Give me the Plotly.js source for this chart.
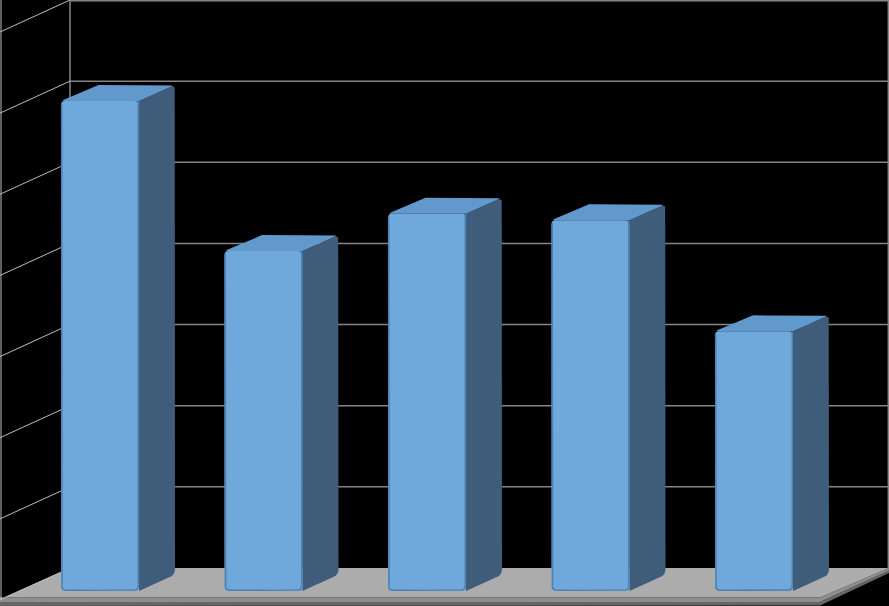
<!DOCTYPE html>
<html>
<head>
<meta charset="utf-8">
<script src="https://cdn.plot.ly/plotly-3.0.1.min.js"></script>
<style>html,body{margin:0;padding:0;background:#000;overflow:hidden}</style>
</head>
<body>
<div id="chart" style="width:889px;height:606px"></div>
<script>
// Data (bar height in grid units)
const categories = [0, 1, 2, 3, 4];
const values = [6.04, 4.19, 4.65, 4.57, 3.20];
const gridLevels = [0, 1, 2, 3, 4, 5, 6, 7];

// Projection constants of the fake-3D look (pixels per data unit on each axis)
const xUnit = 163.5, yUnit = 81.14;
const barWidth = 0.477;
const frontBase = -23 / yUnit;
const depthX = 36 / xUnit, depthY = 16 / yUnit;
const xMin = -100 / xUnit, xMax = 789 / xUnit;
const yMin = -38 / yUnit, yMax = 7.0;
const backLeft = xMin + 70 / xUnit;
const wallDy = -32 / yUnit;
const rightEdge = xMax - 0.7 / xUnit;
const topEdge = yMax - 0.7 / yUnit;

// Round polygon corners: each point is [x, y, radiusPx]
function rounded(points, closed) {
  const xs = [], ys = [];
  const n = points.length;
  points.forEach((p, i) => {
    const r = p[2] || 0;
    if (!r) { xs.push(p[0]); ys.push(p[1]); return; }
    const a = points[(i + n - 1) % n], b = points[(i + 1) % n];
    const seg = (q) => {
      const dx = (q[0] - p[0]) * xUnit, dy = (q[1] - p[1]) * yUnit;
      const len = Math.hypot(dx, dy);
      return [p[0] + dx / len * r / xUnit, p[1] + dy / len * r / yUnit];
    };
    const s = seg(a), e = seg(b);
    for (let t = 0; t <= 1.001; t += 0.25) {
      const u = 1 - t;
      xs.push(u * u * s[0] + 2 * u * t * p[0] + t * t * e[0]);
      ys.push(u * u * s[1] + 2 * u * t * p[1] + t * t * e[1]);
    }
  });
  if (closed !== false) { xs.push(xs[0]); ys.push(ys[0]); }
  return { x: xs, y: ys };
}

function poly(pts, color) {
  const r = rounded(pts);
  return { type: 'scatter', mode: 'lines', x: r.x, y: r.y, fill: 'toself', fillcolor: color,
           line: { width: 0, color: color }, hoverinfo: 'skip', showlegend: false };
}

function edge(pts, color, width) {
  const r = rounded(pts, false);
  return { type: 'scatter', mode: 'lines', x: r.x, y: r.y, zorder: 3,
           line: { width: width, color: color }, hoverinfo: 'skip', showlegend: false };
}

const traces = [];

// Floor: bright top plus a darkening front edge
const floorTipY = -31 / yUnit;
const floorFront = xMax - 69 / xUnit;
const b1 = -29.5 / yUnit, b2 = -34 / yUnit, b3 = -38 / yUnit;
traces.push(poly([[xMin, b2], [floorFront, b2], [xMax, -2.5 / yUnit], [xMax, -5 / yUnit], [floorFront, -37.5 / yUnit], [xMin, b3]], '#666666'));
traces.push(poly([[xMin, b1], [floorFront, b1], [xMax, 0], [xMax, -2.5 / yUnit], [floorFront, b2], [xMin, b2]], '#8e8e8e'));
traces.push(poly([[xMin, floorTipY], [backLeft, 0], [xMax, 0], [floorFront, b1], [xMin, b1]], '#acacac'));

// Back wall grid + left wall grid
const gx = [], gy = [], lx = [], ly = [];
gridLevels.forEach(k => {
  const lvl = k === 7 ? topEdge : k;
  if (k > 0) { gx.push(backLeft, xMax, null); gy.push(lvl, lvl, null); }
  lx.push(xMin, backLeft, null); ly.push(k + wallDy, k, null);
});
gx.push(backLeft, backLeft, null); gy.push(0, 7, null);
gx.push(rightEdge, rightEdge, null); gy.push(0, 7, null);
lx.push(xMin + 1 / xUnit, xMin + 1 / xUnit, null); ly.push(floorTipY, 7, null);
traces.push({ type: 'scatter', mode: 'lines', x: gx, y: gy, line: { color: '#858585', width: 1.5 }, hoverinfo: 'skip', showlegend: false, connectgaps: false });
traces.push({ type: 'scatter', mode: 'lines', x: lx, y: ly, line: { color: '#bdbdbd', width: 1 }, hoverinfo: 'skip', showlegend: false, connectgaps: false });

// Side and top faces derived from the values
categories.forEach((c, i) => {
  const top = frontBase + values[i];
  const l = c - barWidth / 2, r = c + barWidth / 2;
  traces.push(poly([[r, frontBase], [r + depthX, frontBase + depthY, 6], [r + depthX, top + depthY, 5], [r, top]], '#3f5d7b'));
  traces.push(poly([[l, top, 3], [l + depthX, top + depthY, 3], [r + depthX, top + depthY, 5], [r, top]], '#6199cc'));
});

// Front faces
traces.push({
  type: 'bar', x: categories, y: values, base: frontBase, width: barWidth, zorder: 2,
  marker: { color: '#6fa8da', line: { width: 0 } },
  hoverinfo: 'skip', showlegend: false
});

// Soft darker rim on the front faces: left, bottom and right edges
categories.forEach((c, i) => {
  const top = frontBase + values[i];
  const l = c - barWidth / 2, r = c + barWidth / 2;
  const inX = 0.7 / xUnit, inY = 0.7 / yUnit;
  traces.push(edge([[l + inX, top - 3 / yUnit], [l + inX, frontBase + inY, 5], [r - inX, frontBase + inY, 5], [r - inX, top]], '#4f82b2', 1.6));
});

const layout = {
  width: 889, height: 606,
  margin: { l: 0, r: 0, t: 0, b: 0, pad: 0 },
  paper_bgcolor: '#000', plot_bgcolor: '#000',
  showlegend: false, barcornerradius: 4,
  xaxis: { range: [xMin, xMax], visible: false, fixedrange: true },
  yaxis: { range: [yMin, yMax], visible: false, fixedrange: true }
};
Plotly.newPlot('chart', traces, layout, { displayModeBar: false, staticPlot: true });
</script>
</body>
</html>
